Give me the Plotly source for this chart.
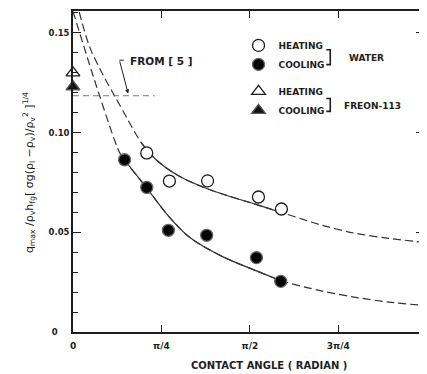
import math
import plotly.graph_objects as go

PI = math.pi

# ---------------- data ----------------
heat_water_x = [0.655, 0.856, 1.195, 1.647, 1.851]
heat_water_y = [0.0898, 0.0757, 0.0758, 0.0677, 0.0617]

cool_water_x = [0.458, 0.655, 0.847, 1.187, 1.629, 1.845]
cool_water_y = [0.0864, 0.0725, 0.0510, 0.0485, 0.0373, 0.0254]

heat_freon_x = [0.0]
heat_freon_y = [0.130]
cool_freon_x = [0.0]
cool_freon_y = [0.123]

# fitted curves
heat_curve_x = [0.055, 0.148, 0.266, 0.369, 0.487, 0.606, 0.738, 0.945, 1.21, 1.624, 1.859, 2.214, 2.508, 2.803, 3.12]
heat_curve_y = [0.1605, 0.143, 0.129, 0.1185, 0.1065, 0.0950, 0.0864, 0.0781, 0.0715, 0.064, 0.0598, 0.0535, 0.0495, 0.047, 0.0449]
heat_solid_from, heat_solid_to = 5, 10

cool_curve_x = [0.0, 0.236, 0.4135, 0.458, 0.655, 0.85, 1.035, 1.328, 1.624, 1.845, 2.214, 2.508, 2.803, 3.12]
cool_curve_y = [0.1608, 0.1185, 0.0900, 0.0862, 0.0722, 0.058, 0.0475, 0.0378, 0.0308, 0.0258, 0.0205, 0.0174, 0.015, 0.0133]
cool_solid_from, cool_solid_to = 3, 9

# value from reference [5]
ref5_x = [0.0, 0.724]
ref5_y = [0.1185, 0.1185]

x_tickvals = [0, PI / 4, PI / 2, 3 * PI / 4]
x_ticktext = ["0", "π/4", "π/2", "3π/4"]
y_tickvals = [0, 0.05, 0.10, 0.15]
y_ticktext = ["0\u00a0\u00a0\u00a0\u00a0", "0.05", "0.10", "0.15"]

# ---------------- layout geometry ----------------
OFF = 8                      # page body margin of the browser
W, H = 427 - OFF, 374 - OFF
ML, MR, MT, MB = 65, 2, 1, 42
PW, PH = W - ML - MR, H - MT - MB
XMAX = 3.117


def px(xp):
    """reference-picture x pixel -> paper fraction"""
    return (xp - OFF - ML) / PW


def py(yp):
    """reference-picture y pixel -> paper fraction"""
    return (H - MB - (yp - OFF)) / PH


INK = "#1e1e1e"
FONT = "DejaVu Sans"
DASH = "8px,4px"

fig = go.Figure()


def curve(xs, ys, dash):
    fig.add_trace(go.Scatter(x=xs, y=ys, mode="lines", showlegend=False, hoverinfo="skip",
                             line=dict(color="#333", width=1.2, dash=dash, shape="spline", smoothing=0.9)))


for cx, cy, a, b in [(heat_curve_x, heat_curve_y, heat_solid_from, heat_solid_to),
                     (cool_curve_x, cool_curve_y, cool_solid_from, cool_solid_to)]:
    curve(cx, cy, DASH)                       # whole fitted curve, dashed
    curve(cx[a:b + 1], cy[a:b + 1], "solid")  # solid over the range of the data

fig.add_trace(go.Scatter(x=ref5_x, y=ref5_y, mode="lines", showlegend=False, hoverinfo="skip",
                         line=dict(color="#777", width=1, dash="6px,4px")))

fig.add_trace(go.Scatter(x=heat_water_x, y=heat_water_y, mode="markers", name="HEATING",
                         legendgroup="water",
                         marker=dict(symbol="circle", size=12, color="white", line=dict(color=INK, width=1.3))))
fig.add_trace(go.Scatter(x=cool_water_x, y=cool_water_y, mode="markers", name="COOLING",
                         legendgroup="water",
                         marker=dict(symbol="circle", size=12, color="#050505", line=dict(color="#666", width=1.3))))
fig.add_trace(go.Scatter(x=heat_freon_x, y=heat_freon_y, mode="markers", name="HEATING",
                         legendgroup="freon", cliponaxis=False,
                         marker=dict(symbol="triangle-up", size=12, color="white", line=dict(color=INK, width=1.3))))
fig.add_trace(go.Scatter(x=cool_freon_x, y=cool_freon_y, mode="markers", name="COOLING",
                         legendgroup="freon", cliponaxis=False,
                         marker=dict(symbol="triangle-up", size=12, color="#111", line=dict(color="#555", width=1.3))))

shapes = []
# brackets of the legend
for y0, y1 in [(48, 63), (97, 110)]:
    shapes.append(dict(type="path", xref="paper", yref="paper",
                       path=f"M {px(327)},{py(y0)} L {px(331)},{py(y0)} L {px(331)},{py(y1)} L {px(327)},{py(y1)}",
                       line=dict(color=INK, width=1.6)))
# leader corner of the "FROM [5]" note
shapes.append(dict(type="line", xref="paper", yref="paper", x0=px(119.5), y0=py(58.5), x1=px(124), y1=py(58.5),
                   line=dict(color=INK, width=1)))

annotations = [
    dict(x=px(347.5), y=py(56.5), xref="paper", yref="paper", text="WATER", showarrow=False,
         xanchor="left", yanchor="middle", font=dict(family=FONT, size=9, weight="bold", color=INK)),
    dict(x=px(343), y=py(105), xref="paper", yref="paper", text="FREON-113", showarrow=False,
         xanchor="left", yanchor="middle", font=dict(family=FONT, size=9, weight="bold", color=INK)),
    dict(x=px(128), y=py(59), xref="paper", yref="paper", text="FROM [ 5 ]", showarrow=False,
         xanchor="left", yanchor="middle", font=dict(family=FONT, size=10.5, weight="bold", color=INK)),
    dict(x=px(128.3), y=py(92), xref="paper", yref="paper", ax=119.5 - 128.3, ay=58.5 - 92,
         axref="pixel", ayref="pixel",
         text="", showarrow=True, arrowhead=2, arrowsize=0.8, arrowwidth=1, arrowcolor=INK),
    dict(x=px(270), y=py(366), xref="paper", yref="paper", text="CONTACT ANGLE ( RADIAN )", showarrow=False,
         xanchor="center", yanchor="middle", font=dict(family=FONT, size=10, weight="bold", color=INK)),
    dict(x=PI / XMAX, y=py(346.5), xref="paper", yref="paper", text="π", showarrow=False,
         xanchor="center", yanchor="middle", font=dict(family=FONT, size=9, weight="bold", color=INK)),
    dict(x=px(29), y=py(172), xref="paper", yref="paper", textangle=-90, showarrow=False,
         text="q<sub>max</sub> /ρ<sub>v</sub>h<sub>fg</sub>[ σg(ρ<sub>l</sub> −ρ<sub>v</sub>)/ρ<sub>v</sub><sup>2</sup> ]<sup>1/4</sup>",
         xanchor="center", yanchor="middle", font=dict(family=FONT, size=11, color=INK)),
]

fig.update_layout(
    width=W, height=H, margin=dict(l=ML, r=MR, t=MT, b=MB),
    plot_bgcolor="white", paper_bgcolor="white",
    font=dict(family=FONT, size=9, color=INK),
    showlegend=True,
    legend=dict(x=px(239), y=py(29), xanchor="left", yanchor="top", bgcolor="rgba(0,0,0,0)",
                tracegroupgap=8, traceorder="grouped",
                font=dict(family=FONT, size=9, weight="bold", color=INK)),
    shapes=shapes, annotations=annotations,
)
fig.update_xaxes(range=[0, XMAX], tickvals=x_tickvals, ticktext=x_ticktext,
                 ticks="inside", ticklen=7, tickwidth=1.2, tickcolor=INK,
                 showline=True, linecolor=INK, linewidth=1.5, mirror="ticks",
                 showgrid=False, zeroline=False, ticklabelstandoff=4,
                 tickfont=dict(family=FONT, size=9, weight="bold", color=INK))
fig.update_yaxes(range=[0, 0.161], tickvals=y_tickvals, ticktext=y_ticktext,
                 ticks="inside", ticklen=8, tickwidth=1.2, tickcolor=INK,
                 minor=dict(dtick=0.01, tick0=0, ticks="inside", ticklen=5, tickwidth=1, tickcolor=INK),
                 showline=True, linecolor=INK, linewidth=1.5, mirror="ticks",
                 showgrid=False, zeroline=False,
                 tickfont=dict(family=FONT, size=8.5, weight="bold", color=INK))

fig.write_html("out.html")
